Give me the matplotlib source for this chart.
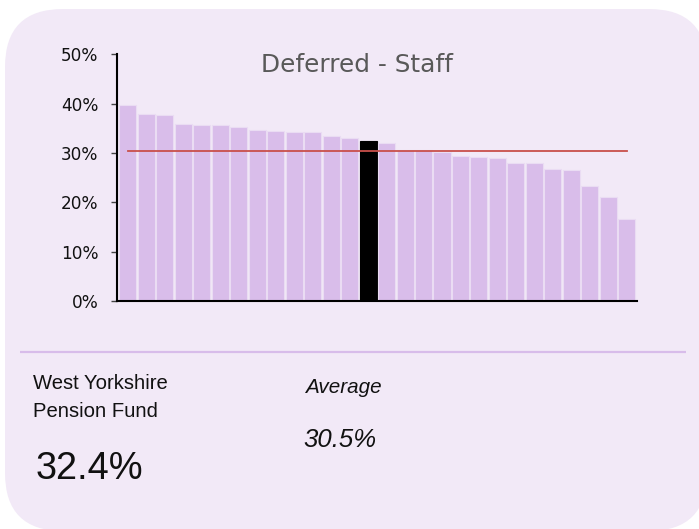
import matplotlib
matplotlib.use("Agg")
import matplotlib.pyplot as plt
from matplotlib.patches import FancyBboxPatch
import numpy as np

title = "Deferred - Staff"
values = [39.7, 38.0, 37.6, 35.9, 35.7, 35.6, 35.2, 34.7, 34.4, 34.3, 34.3, 33.4, 33.0,
          32.4, 32.0, 30.6, 30.6, 30.2, 29.3, 29.1, 29.0, 28.0, 28.0, 26.8, 26.6, 23.4, 21.0, 16.6]
highlight_index = 13
average = 30.5
yticks = [0, 10, 20, 30, 40, 50]
fund_lines = ["West Yorkshire", "Pension Fund"]
fund_value = "32.4%"
avg_label = "Average"
avg_value = "30.5%"

body_font = "Liberation Sans"

W, H = 699, 529
fig = plt.figure(figsize=(W / 100, H / 100), dpi=100)
fig.patch.set_facecolor("white")

bg = fig.add_axes([0, 0, 1, 1])
bg.set_xlim(0, W)
bg.set_ylim(H, 0)
bg.axis("off")
card_color = "#F2E9F7"
bg.add_patch(FancyBboxPatch((5, 9), 702, 522, boxstyle="round,pad=0,rounding_size=58",
                            facecolor=card_color, edgecolor="none"))
bg.plot([20, 686], [352, 352], color="#D8BCEA", lw=1.6, solid_capstyle="butt")

bg.text(33, 389, fund_lines[0], family=body_font, fontsize=14.6, color="#111111", va="baseline")
bg.text(33, 417, fund_lines[1], family=body_font, fontsize=14.6, color="#111111", va="baseline")
bg.text(36, 479, fund_value, family=body_font, fontsize=27.4, color="#111111", va="baseline")
bg.text(305, 393, avg_label, family=body_font, fontsize=14.9, style="italic", color="#111111", va="baseline")
bg.text(303, 447, avg_value, family=body_font, fontsize=18.5, style="italic", color="#111111", va="baseline")
bg.text(357, 72, title, ha="center", va="baseline", fontsize=17.8, color="#595959")

ax = fig.add_axes([117.3 / W, 1 - 301 / H, (636.7 - 117.3) / W, (301 - 54.3) / H])
ax.set_facecolor("none")
x = np.arange(len(values))
colors = ["#D9BDEA"] * len(values)
colors[highlight_index] = "#000000"
edges = ["#EADCF3"] * len(values)
edges[highlight_index] = "#000000"
ax.bar(x, values, width=0.92, color=colors, edgecolor=edges, linewidth=0.8)
ax.plot([x[0], x[-1]], [average, average], color="#C9504B", lw=1.3)
ax.set_xlim(-0.56, len(values) - 0.47)
ax.set_ylim(0, 50)
ax.set_yticks(yticks)
ax.set_yticklabels([f"{t}%" for t in yticks], fontsize=12.2, color="#111111")
ax.set_xticks([])
for s in ["top", "right"]:
    ax.spines[s].set_visible(False)
ax.spines["left"].set_linewidth(1.5)
ax.spines["bottom"].set_linewidth(1.5)
ax.tick_params(axis="y", length=4, width=1, color="#444444", pad=9.5)

fig.savefig("out.png", dpi=100, facecolor="white")
